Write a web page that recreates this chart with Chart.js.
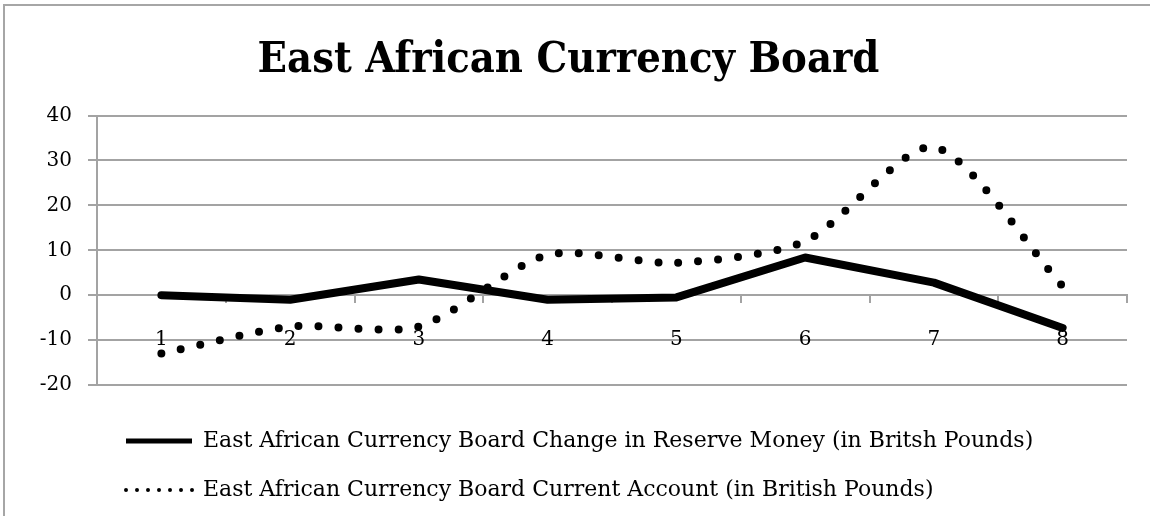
<!DOCTYPE html>
<html>
<head>
<meta charset="utf-8">
<script src="https://cdn.jsdelivr.net/npm/chart.js@4/dist/chart.umd.min.js"></script>
<style>
  body { margin: 0; background: #fff; }
  #wrap { position: relative; width: 1150px; height: 516px; }
  .edge { position: absolute; background: #a6a6a6; }
</style>
</head>
<body>
<div id="wrap">
  <canvas id="myChart" width="1150" height="516"></canvas>
  <div class="edge" style="left:3px; top:4px; width:1147px; height:2px;"></div>
  <div class="edge" style="left:3px; top:4px; width:2px; height:512px;"></div>
</div>
<script>
// values
const periods = ["1", "2", "3", "4", "5", "6", "7", "8"];
const reserveMoney = [0, -1, 3.5, -1, -0.5, 8.4, 2.8, -7.3];
const currentAccount = [-13, -7, -7, 9, 7.2, 12, 33, 2];
const yTicks = [-20, -10, 0, 10, 20, 30, 40];

const titleFont = "'DejaVu Serif Condensed', 'Liberation Serif', serif";
const serif = "'DejaVu Serif', 'Liberation Serif', serif";
const gray = "#a3a3a3";

// move the legend to where Excel put it
const legendShift = {
  id: "legendShift",
  afterLayout(chart) {
    const lg = chart.legend;
    lg.left += 89; lg.right += 89;
    lg.top += 18; lg.bottom += 18;
  }
};

let graph = new Chart("myChart", {
  type: "line",
  data: {
    labels: periods,
    datasets: [{
      label: "East African Currency Board Change in Reserve Money (in Britsh Pounds)",
      data: reserveMoney,
      borderColor: "#000",
      backgroundColor: "#000",
      borderWidth: 8,
      borderJoinStyle: "round",
      borderCapStyle: "round",
      pointRadius: 0,
      tension: 0
    }, {
      label: "East African Currency Board Current Account (in British Pounds)",
      data: currentAccount,
      borderColor: "#000",
      backgroundColor: "#000",
      borderWidth: 8,
      borderDash: [0, 20],
      borderCapStyle: "round",
      pointRadius: 0,
      tension: 0.25
    }]
  },
  options: {
    responsive: false,
    animation: false,
    layout: { padding: { left: 10, right: 23, top: 0, bottom: 23 } },
    plugins: {
      title: {
        display: true,
        text: "East African Currency Board",
        color: "#000",
        font: { family: titleFont, size: 43, weight: "bold" },
        padding: { top: 35, bottom: 29 }
      },
      legend: {
        position: "bottom",
        align: "start",
        labels: {
          color: "#000",
          font: { family: serif, size: 22 },
          boxWidth: 66,
          boxHeight: 0,
          padding: 27,
          generateLabels(chart) {
            return chart.data.datasets.map((ds, i) => ({
              text: ds.label,
              fillStyle: "rgba(0,0,0,0)",
              strokeStyle: "#000",
              lineWidth: i === 0 ? 5 : 4,
              lineDash: i === 0 ? [] : [0, 11],
              lineCap: "round",
              fontColor: "#000",
              datasetIndex: i
            }));
          }
        }
      },
      tooltip: { enabled: false }
    },
    scales: {
      x: {
        position: { y: 0 },
        offset: true,
        grid: { display: true, drawOnChartArea: false, drawTicks: true, tickLength: 7, offset: true, color: gray, lineWidth: 2 },
        border: { display: true, color: gray, width: 2 },
        ticks: { color: "#000", padding: 26, font: { family: serif, size: 20 } }
      },
      y: {
        min: -20,
        max: 40,
        afterBuildTicks(scale) { scale.ticks = yTicks.map(v => ({ value: v })); },
        afterFit(scale) { scale.width = 87; },
        grid: { color: gray, lineWidth: 2, tickLength: 9 },
        border: { display: true, color: gray, width: 2 },
        ticks: { color: "#000", padding: 16, font: { family: serif, size: 20 } }
      }
    }
  },
  plugins: [legendShift]
});
</script>
</body>
</html>
